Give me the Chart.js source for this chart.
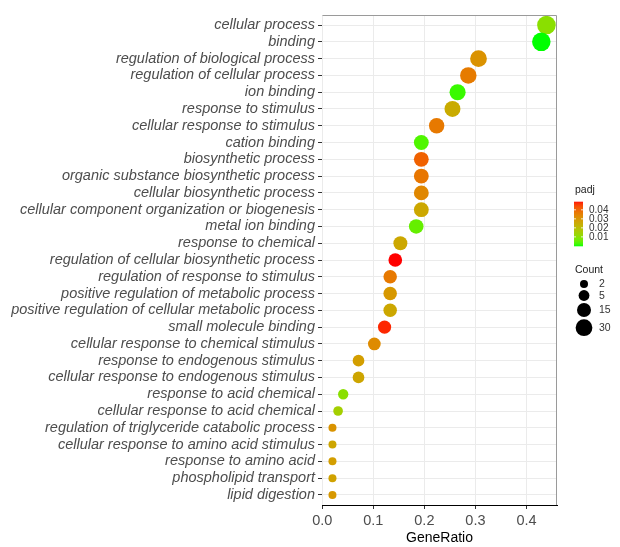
<!DOCTYPE html>
<html>
<head>
<meta charset="utf-8">
<script src="https://cdn.jsdelivr.net/npm/chart.js@4/dist/chart.umd.min.js"></script>
<style>
html,body{margin:0;padding:0;background:#ffffff;}
#wrap{width:620px;height:547px;position:relative;}
canvas{display:block;}
</style>
</head>
<body>
<div id="wrap"><canvas id="c" width="620" height="547" style="width:620px;height:547px"></canvas></div>
<script>
// ---------- data ----------
const categories = [
  "cellular process",
  "binding",
  "regulation of biological process",
  "regulation of cellular process",
  "ion binding",
  "response to stimulus",
  "cellular response to stimulus",
  "cation binding",
  "biosynthetic process",
  "organic substance biosynthetic process",
  "cellular biosynthetic process",
  "cellular component organization or biogenesis",
  "metal ion binding",
  "response to chemical",
  "regulation of cellular biosynthetic process",
  "regulation of response to stimulus",
  "positive regulation of metabolic process",
  "positive regulation of cellular metabolic process",
  "small molecule binding",
  "cellular response to chemical stimulus",
  "response to endogenous stimulus",
  "cellular response to endogenous stimulus",
  "response to acid chemical",
  "cellular response to acid chemical",
  "regulation of triglyceride catabolic process",
  "cellular response to amino acid stimulus",
  "response to amino acid",
  "phospholipid transport",
  "lipid digestion"
];
const geneRatio = [0.439, 0.429, 0.306, 0.286, 0.265, 0.255, 0.224, 0.194, 0.194, 0.194, 0.194, 0.194, 0.184, 0.153, 0.143, 0.133, 0.133, 0.133, 0.122, 0.102, 0.071, 0.071, 0.041, 0.031, 0.020, 0.020, 0.020, 0.020, 0.020];
const counts    = [43, 42, 30, 28, 26, 25, 22, 19, 19, 19, 19, 19, 18, 15, 14, 13, 13, 13, 12, 10, 7, 7, 4, 3, 2, 2, 2, 2, 2];
const padj      = [0.0100, 0.0002, 0.0309, 0.0358, 0.0017, 0.0246, 0.0363, 0.0031, 0.0407, 0.0368, 0.0334, 0.0256, 0.0051, 0.0256, 0.0490, 0.0363, 0.0295, 0.0256, 0.0475, 0.0324, 0.0280, 0.0261, 0.0100, 0.0148, 0.0305, 0.0261, 0.0280, 0.0270, 0.0295];
const xTickValues = [0.0, 0.1, 0.2, 0.3, 0.4];
const padjBreaks  = [0.01, 0.02, 0.03, 0.04];
const countBreaks = [2, 5, 15, 30];

// ---------- scales for colour and size ----------
const FONT = '"Liberation Sans", Arial, Helvetica, sans-serif';
const cMin = Math.min(...counts), cMax = Math.max(...counts);
function radiusFor(c){ return 4 + 5.3 * Math.sqrt((c - cMin) / (cMax - cMin)); }

function srgbToLin(v){ v/=255; return v <= 0.04045 ? v/12.92 : Math.pow((v+0.055)/1.055, 2.4); }
function linToSrgb(v){ v = v <= 0.0031308 ? 12.92*v : 1.055*Math.pow(v,1/2.4)-0.055; return Math.max(0, Math.min(255, Math.round(v*255))); }
function rgbToLab(r,g,b){
  const R=srgbToLin(r),G=srgbToLin(g),B=srgbToLin(b);
  let X=(0.4124*R+0.3576*G+0.1805*B)/0.95047, Y=(0.2126*R+0.7152*G+0.0722*B), Z=(0.0193*R+0.1192*G+0.9505*B)/1.08883;
  const f=t=> t>0.008856 ? Math.cbrt(t) : (7.787*t+16/116);
  const fx=f(X),fy=f(Y),fz=f(Z);
  return [116*fy-16, 500*(fx-fy), 200*(fy-fz)];
}
function labToRgb(L,a,b){
  const fy=(L+16)/116, fx=fy+a/500, fz=fy-b/200;
  const finv=t=> t>0.206893 ? t*t*t : (t-16/116)/7.787;
  const X=finv(fx)*0.95047, Y=finv(fy), Z=finv(fz)*1.08883;
  const R= 3.2406*X-1.5372*Y-0.4986*Z, G=-0.9689*X+1.8758*Y+0.0415*Z, B=0.0557*X-0.2040*Y+1.0570*Z;
  return [linToSrgb(R),linToSrgb(G),linToSrgb(B)];
}
const LOW = rgbToLab(0,255,0), HIGH = rgbToLab(255,0,0);
const pMin = Math.min(...padj), pMax = Math.max(...padj);
function colorFor(p){
  let t=(p-pMin)/(pMax-pMin); t=Math.max(0,Math.min(1,t));
  const c=labToRgb(LOW[0]+(HIGH[0]-LOW[0])*t, LOW[1]+(HIGH[1]-LOW[1])*t, LOW[2]+(HIGH[2]-LOW[2])*t);
  return 'rgb('+c[0]+','+c[1]+','+c[2]+')';
}

// ---------- plugin: panel border + legends ----------
const extras = {
  id: 'extras',
  afterDraw(chart){
    const ctx = chart.ctx, a = chart.chartArea;
    ctx.save();
    // panel border top/right
    ctx.strokeStyle = '#9a9a9a'; ctx.lineWidth = 1;
    ctx.beginPath();
    ctx.moveTo(Math.round(a.left)+0.5, Math.round(a.top)+0.5);
    ctx.lineTo(Math.round(a.right)-0.5, Math.round(a.top)+0.5);
    ctx.lineTo(Math.round(a.right)-0.5, Math.round(a.bottom));
    ctx.stroke();

    // padj colourbar
    ctx.fillStyle = '#1a1a1a';
    ctx.textBaseline = 'middle'; ctx.textAlign = 'left';
    ctx.font = '10.5px ' + FONT;
    ctx.fillText('padj', 575, 190);
    const bx = 574, bw = 9, bTop = 201.7, bBot = 245.7;
    const steps = 88;
    for (let i = 0; i < steps; i++){
      const y0 = bTop + (bBot-bTop)*i/steps;
      const p = pMax - (pMax-pMin)*(i+0.5)/steps;
      ctx.fillStyle = colorFor(p);
      ctx.fillRect(bx, y0, bw, (bBot-bTop)/steps + 0.6);
    }
    ctx.font = '10px ' + FONT;
    padjBreaks.forEach(v=>{
      const y = bBot - (v - pMin)/(pMax - pMin)*(bBot-bTop);
      ctx.strokeStyle = '#ffffff'; ctx.lineWidth = 0.8;
      ctx.beginPath(); ctx.moveTo(bx, y); ctx.lineTo(bx+2, y); ctx.moveTo(bx+bw-2, y); ctx.lineTo(bx+bw, y); ctx.stroke();
      ctx.fillStyle = '#333333';
      ctx.fillText(v.toFixed(2), 589, y + 0.5);
    });

    // Count legend
    ctx.fillStyle = '#1a1a1a';
    ctx.font = '10.5px ' + FONT;
    ctx.fillText('Count', 575, 270);
    const ys = [284, 295.5, 310, 327.7];
    ctx.font = '10.5px ' + FONT;
    countBreaks.forEach((c,i)=>{
      ctx.fillStyle = '#000000';
      ctx.beginPath(); ctx.arc(584, ys[i], radiusFor(c), 0, Math.PI*2); ctx.fill();
      ctx.fillStyle = '#333333';
      ctx.fillText(String(c), 599, ys[i] + 0.5);
    });
    ctx.restore();
  }
};

// ---------- chart ----------
new Chart(document.getElementById('c'), {
  type: 'scatter',
  data: {
    datasets: [{
      data: geneRatio.map((g,i)=>({x:g, y:i})),
      pointRadius: ctx => radiusFor(counts[ctx.dataIndex]),
      pointHoverRadius: ctx => radiusFor(counts[ctx.dataIndex]),
      pointBackgroundColor: ctx => colorFor(padj[ctx.dataIndex]),
      pointBorderWidth: 0,
      pointHoverBorderWidth: 0
    }]
  },
  options: {
    responsive: false,
    animation: false,
    events: [],
    layout: { padding: { top: 15, right: 63, bottom: 0, left: 0 } },
    plugins: { legend: { display: false }, tooltip: { enabled: false } },
    scales: {
      x: {
        type: 'linear',
        min: -0.0005, max: 0.4597,
        afterBuildTicks: s => { s.ticks = xTickValues.map(v=>({value:v})); },
        afterFit: s => { s.height = 42; },
        ticks: {
          callback: v => Number(v).toFixed(1),
          color: '#4d4d4d',
          font: { family: FONT, size: 14.5 },
          padding: 3.5, maxRotation: 0, autoSkip: false
        },
        grid: { color: '#ebebeb', lineWidth: 1, tickColor: '#333333', tickLength: 4 },
        border: { display: true, color: '#000000', width: 1 },
        title: { display: true, text: 'GeneRatio', color: '#000000', font: { family: FONT, size: 14 }, padding: { top: 0, bottom: 0 } }
      },
      y: {
        type: 'linear',
        reverse: true,
        min: -0.6, max: categories.length - 1 + 0.6,
        afterBuildTicks: s => { s.ticks = categories.map((_,i)=>({value:i})); },
        afterFit: s => { s.width = 322; },
        ticks: {
          callback: v => categories[v],
          color: '#4d4d4d',
          font: { family: FONT, size: 14.5, style: 'italic' },
          padding: 3, autoSkip: false
        },
        grid: { color: '#ebebeb', lineWidth: 1, tickColor: '#333333', tickLength: 4 },
        border: { display: false }
      }
    }
  },
  plugins: [extras]
});
</script>
</body>
</html>
